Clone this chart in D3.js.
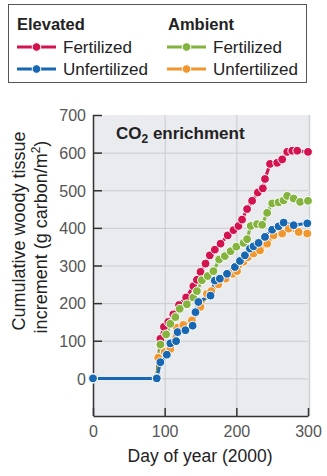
<!DOCTYPE html>
<html><head><meta charset="utf-8">
<script src="https://cdn.jsdelivr.net/npm/d3@7/dist/d3.min.js"></script>
<style>body{margin:0;background:#fff}svg{display:block}</style>
</head><body>
<svg id="c" width="327" height="476"></svg>
<script>
// Data: [day of year, cumulative woody tissue increment g C/m2]
const elevatedFertilized = [[0,0],[89,0],[94,105],[99,137],[105,150],[112,170],[120,195],[130,215],[140,245],[145,262],[150,283],[157,305],[163,327],[170,342],[178,358],[188,380],[196,394],[203,405],[208,422],[215,450],[222,472],[230,494],[237,505],[240,530],[247,570],[257,573],[264,582],[271,602],[278,605],[285,605],[300,602]];
const elevatedUnfertilized = [[0,0],[89,0],[94,43],[103,63],[108,93],[116,99],[118,123],[129,128],[139,140],[143,176],[147,203],[164,220],[170,260],[177,265],[187,278],[198,296],[205,312],[212,327],[219,345],[224,351],[231,360],[240,376],[250,395],[259,404],[266,414],[280,407],[299,412]];
const ambientFertilized = [[0,0],[89,0],[94,90],[102,117],[108,145],[115,163],[121,185],[131,197],[140,215],[145,232],[152,261],[160,272],[168,285],[176,316],[184,325],[192,338],[200,350],[210,360],[215,370],[220,405],[229,410],[236,408],[243,440],[250,465],[259,468],[266,473],[271,485],[280,478],[289,469],[300,472]];
const ambientUnfertilized = [[0,0],[89,0],[91,55],[100,70],[108,78],[117,135],[126,142],[138,154],[150,190],[159,225],[165,232],[175,250],[185,265],[195,278],[201,285],[210,310],[216,322],[224,332],[233,340],[243,358],[252,380],[264,385],[273,398],[287,389],[299,385]];
const xTicks = [0,100,200,300];
const yTicks = [0,100,200,300,400,500,600,700];

const colors = {red:"#d3134f", blue:"#1767b3", green:"#84b43e", orange:"#f0962c"};
const series = [
  {data: ambientUnfertilized, color: colors.orange},
  {data: elevatedFertilized, color: colors.red},
  {data: ambientFertilized, color: colors.green},
  {data: elevatedUnfertilized, color: colors.blue}
];

const svg = d3.select("#c");
const font = "'Liberation Sans', Arial, Helvetica, sans-serif";
const x = d3.scaleLinear().domain([0,300]).range([93,308]);
const y = d3.scaleLinear().domain([-100,700]).range([416,115]);

// Legend box
svg.append("rect").attr("x",8.5).attr("y",4.5).attr("width",298).attr("height",78)
  .attr("fill","#fff").attr("stroke","#555").attr("stroke-width",1);
const lg = svg.append("g").attr("font-family",font);
lg.append("text").attr("x",17).attr("y",30).attr("font-size",16.5).attr("font-weight","bold").attr("fill","#222").text("Elevated");
lg.append("text").attr("x",168).attr("y",30).attr("font-size",16.5).attr("font-weight","bold").attr("fill","#222").text("Ambient");
const legendItems = [
  {lx:17, ly:47, c:colors.red, t:"Fertilized"},
  {lx:17, ly:69, c:colors.blue, t:"Unfertilized"},
  {lx:167, ly:47, c:colors.green, t:"Fertilized"},
  {lx:167, ly:69, c:colors.orange, t:"Unfertilized"}
];
legendItems.forEach(d=>{
  lg.append("line").attr("x1",d.lx).attr("x2",d.lx+39).attr("y1",d.ly).attr("y2",d.ly)
    .attr("stroke",d.c).attr("stroke-width",3);
  lg.append("circle").attr("cx",d.lx+19.5).attr("cy",d.ly).attr("r",4.3).attr("fill",d.c)
    .attr("stroke","#fff").attr("stroke-width",1);
  lg.append("text").attr("x",d.lx+46).attr("y",d.ly+6).attr("font-size",17).attr("fill","#222").text(d.t);
});

// Plot background
svg.append("rect").attr("x",x(0)).attr("y",y(700)).attr("width",x(300)-x(0)+1).attr("height",y(-100)-y(700))
  .attr("fill","#e9ebef");
svg.append("line").attr("x1",x(300)+1.5).attr("x2",x(300)+1.5).attr("y1",y(700)).attr("y2",y(-100))
  .attr("stroke","#cfd1d4").attr("stroke-width",1.5);

// Grid
const grid = svg.append("g").attr("stroke","#c9cbce").attr("stroke-width",1);
yTicks.filter(v=>v<700).forEach(v=>{
  grid.append("line").attr("x1",x(0)).attr("x2",x(300)).attr("y1",y(v)+0.5).attr("y2",y(v)+0.5);
});
xTicks.filter(v=>v>0&&v<300).forEach(v=>{
  grid.append("line").attr("x1",x(v)+0.5).attr("x2",x(v)+0.5).attr("y1",y(700)).attr("y2",y(-100));
});

// Axes
const yAxis = d3.axisLeft(y).tickValues(yTicks).tickSizeInner(-9).tickSizeOuter(0).tickPadding(7);
const gy = svg.append("g").attr("transform",`translate(${x(0)},0)`).call(yAxis);
const xAxis = d3.axisBottom(x).tickValues(xTicks).tickSizeInner(-8).tickSizeOuter(0).tickPadding(9);
const gx = svg.append("g").attr("transform",`translate(0,${y(-100)})`).call(xAxis);
[gx,gy].forEach(g=>{
  g.select(".domain").attr("stroke","#333").attr("stroke-width",1.5);
  g.selectAll(".tick line").attr("stroke","#333").attr("stroke-width",1.5);
  g.selectAll(".tick text").attr("font-family",font).attr("font-size",16).attr("fill","#555");
});
gy.select(".domain").attr("d",`M0.5,${y(700)}V${y(-100)}`);
gy.selectAll(".tick text").attr("dy","0.36em");
gx.selectAll(".tick text").attr("dy","0.76em");

// Axis titles
svg.append("text").attr("transform","translate(25,231) rotate(-90)").attr("text-anchor","middle")
  .attr("font-family",font).attr("font-size",18).attr("fill","#222").text("Cumulative woody tissue");
const t2 = svg.append("text").attr("transform","translate(47,237) rotate(-90)").attr("text-anchor","middle")
  .attr("font-family",font).attr("font-size",18).attr("fill","#222");
t2.append("tspan").text("increment (g carbon/m");
t2.append("tspan").attr("font-size",12).attr("dy",-7).text("2");
t2.append("tspan").attr("dy",7).text(")");
svg.append("text").attr("x",200).attr("y",462).attr("text-anchor","middle")
  .attr("font-family",font).attr("font-size",17.5).attr("fill","#222").text("Day of year (2000)");

// CO2 label
const co = svg.append("text").attr("x",116).attr("y",139).attr("font-family",font)
  .attr("font-size",17).attr("font-weight","bold").attr("fill","#222");
co.append("tspan").text("CO");
co.append("tspan").attr("font-size",12).attr("dy",4).text("2");
co.append("tspan").attr("dy",-4).text(" enrichment");

// Series
const line = d3.line().x(d=>x(d[0])).y(d=>y(d[1]));
series.forEach(s=>{
  svg.append("path").attr("d",line(s.data)).attr("fill","none").attr("stroke",s.color).attr("stroke-width",3);
});
series.forEach(s=>{
  svg.append("g").selectAll("circle").data(s.data).join("circle")
    .attr("cx",d=>x(d[0])).attr("cy",d=>y(d[1])).attr("r",4.4)
    .attr("fill",s.color).attr("stroke","#fff").attr("stroke-width",1);
});
</script>
</body></html>
